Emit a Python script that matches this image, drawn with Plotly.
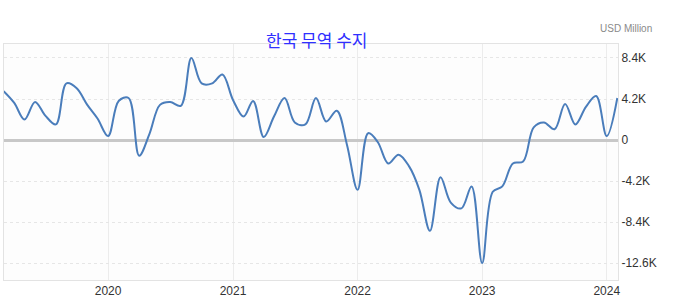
import pandas as pd
import plotly.graph_objects as go

# Korea monthly trade balance, USD million (Mar 2019 - Feb 2024)
months = pd.date_range("2019-03-01", "2024-02-01", freq="MS")
balance = [
    5000, 3800, 2100, 3900, 2500, 1600, 5800, 5300, 3600, 2200,   # 2019 Mar-Dec
    400, 4000, 4300, -1600, 600, 3600, 3900, 3500, 8400, 5800, 5800, 6700,  # 2020
    4100, 2400, 4000, 300, 2400, 4300, 1800, 1600, 4300, 1900, 3000, -500,  # 2021
    -5100, 700, -200, -2400, -1500, -2700, -5100, -9300, -3800, -6400, -7000, -4750,  # 2022
    -12600, -5300, -4750, -2400, -2200, 1300, 1800, 1100, 3700, 1600, 3400, 4500,  # 2023
    400, 4300,  # 2024
]

tick_vals = [-12600, -8400, -4200, 0, 4200, 8400]
tick_text = ["-12.6K", "-8.4K", "-4.2K", "0", "4.2K", "8.4K"]
year_ticks = ["2020-01-01", "2021-01-01", "2022-01-01", "2023-01-01", "2024-01-01"]
year_text = ["2020", "2021", "2022", "2023", "2024"]
title_text = "한국 무역 수지"
unit_text = "USD Million"

fig = go.Figure()
fig.add_trace(go.Scatter(
    x=months, y=balance, mode="lines",
    line=dict(color="#4a7dbb", width=2, shape="spline", smoothing=1.0),
    hoverinfo="x+y",
))

fig.update_layout(
    width=673, height=305,
    margin=dict(l=4, r=55, t=44, b=25),
    paper_bgcolor="#ffffff",
    plot_bgcolor="#fdfdfd",
    showlegend=False,
    font=dict(family="Arial, Liberation Sans, sans-serif", size=12, color="#333333"),
)

fig.update_xaxes(
    range=["2019-03-02", "2024-02-03"],
    tickvals=year_ticks, ticktext=year_text,
    showgrid=True, gridcolor="#ececec", gridwidth=1,
    showline=True, linecolor="#e3e3e3", mirror=True,
    ticks="", tickfont=dict(size=12, color="#333333"),
    zeroline=False,
)
fig.update_yaxes(
    range=[-14330, 9830],
    side="right",
    tickvals=tick_vals, ticktext=tick_text,
    showgrid=True, gridcolor="#e6e6e6", gridwidth=1, griddash="dot",
    showline=True, linecolor="#e3e3e3", mirror=True,
    zeroline=True, zerolinecolor="#c8c8c8", zerolinewidth=3,
    ticks="", tickfont=dict(size=12, color="#333333"),
)

fig.add_annotation(
    text=title_text, xref="paper", yref="paper",
    x=(316 - 4) / 614, y=1.0, yshift=5, xanchor="center", yanchor="middle",
    showarrow=False,
    font=dict(family="Noto Sans CJK KR", size=17, color="#3030ff"),
)
fig.add_annotation(
    text=unit_text, xref="paper", yref="paper",
    x=1.0, xshift=36, y=1.0, yshift=16, xanchor="right", yanchor="middle",
    showarrow=False,
    font=dict(family="Arial, Liberation Sans, sans-serif", size=10, color="#8a8a8a"),
)

fig.write_html("out.html")
